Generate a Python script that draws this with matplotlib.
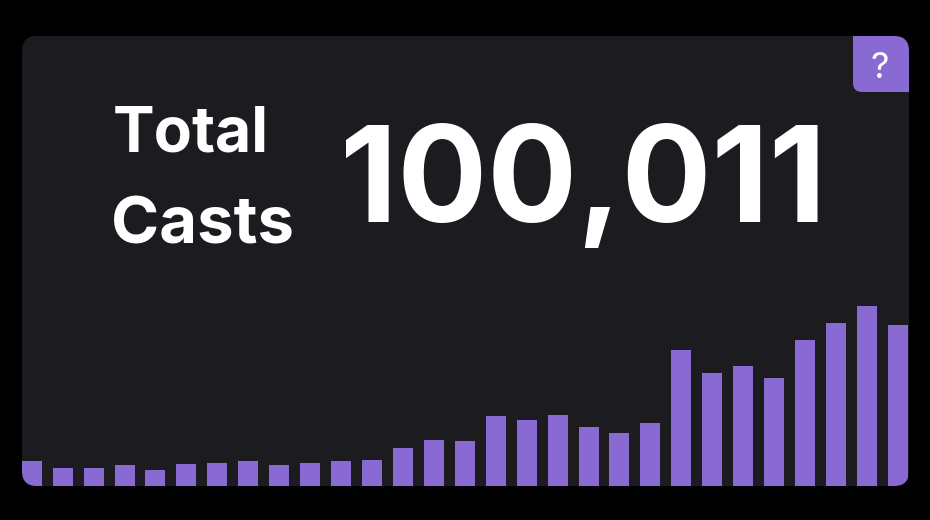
import matplotlib
matplotlib.use("Agg")
import matplotlib.pyplot as plt
from matplotlib.patches import FancyBboxPatch
from matplotlib.text import Text

W, H = 930, 520
card_left, card_right, card_top, card_bottom = 22, 909, 36, 486
bar_pitch, bar_width_px = 30.93, 20

values = [24.7, 17.7, 17.7, 20.7, 16.4, 22.4, 23.4, 24.7, 20.7, 23.4, 24.7, 26.4, 37.7,
          46, 44.7, 70, 65.7, 71.4, 58.7, 53, 62.7, 136, 113.4, 120.4, 107.7, 145.7,
          162.7, 179.7, 161.4]
title_lines = ["Total", "Casts"]
total_label = "100,011"
help_label = "?"

BG = "#000000"
CARD = "#1C1B20"
PURPLE = "#8969D2"
FONT = "Inter"


class UnkernedText(Text):
    def draw(self, renderer):
        with plt.rc_context({"text.kerning_factor": 6}):
            super().draw(renderer)


fig = plt.figure(figsize=(W / 100, H / 100), dpi=100, facecolor=BG)
ov = fig.add_axes([0, 0, 1, 1])
ov.set_xlim(0, W)
ov.set_ylim(H, 0)
ov.axis("off")

r = 15
card = FancyBboxPatch((card_left + r, card_top + r), card_right - card_left - 2 * r,
                      card_bottom - card_top - 2 * r, boxstyle=f"round,pad={r},rounding_size={r}",
                      fc=CARD, ec="none", zorder=1)
ov.add_patch(card)

ax = fig.add_axes([card_left / W, (H - card_bottom) / H, (card_right - card_left) / W,
                   (card_bottom - card_top) / H], zorder=2)
ax.patch.set_alpha(0)
ax.axis("off")
first_center = (52.7 + bar_width_px / 2 - bar_pitch - card_left) / bar_pitch
ax.set_xlim(-first_center, (card_right - card_left) / bar_pitch - first_center)
ax.set_ylim(0, card_bottom - card_top)
bars = ax.bar(range(len(values)), values, width=bar_width_px / bar_pitch, color=PURPLE, linewidth=0)
for b in bars:
    b.set_clip_path(card.get_path(), card.get_transform())

tab = FancyBboxPatch((853 + 9, 20), 80, 72 - 9, boxstyle="round,pad=9,rounding_size=9",
                     fc=PURPLE, ec="none", zorder=3)
ov.add_patch(tab)
tab.set_clip_path(card.get_path(), card.get_transform())

txt = dict(color="white", family=[FONT, "DejaVu Sans"], zorder=5)
ov.text(879.5, 77.5, help_label, fontsize=26, ha="center", va="baseline", **txt)
ov.text(113, 152, title_lines[0], fontsize=45, fontweight="bold", ha="left", va="baseline", **txt)
ov.text(111, 243, title_lines[1], fontsize=47, fontweight="bold", ha="left", va="baseline", **txt)
ov.add_artist(UnkernedText(583, 222, total_label, fontsize=96, fontweight="bold", ha="center",
                           va="baseline", **txt))

fig.savefig("out.png", dpi=100, facecolor=BG)
